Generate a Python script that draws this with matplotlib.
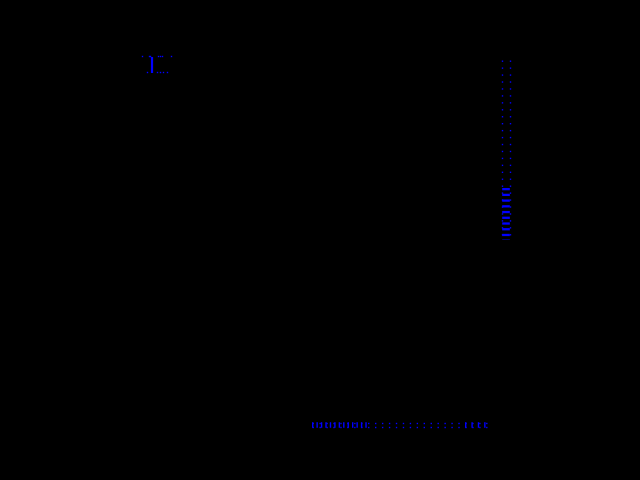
import numpy as np
import matplotlib
matplotlib.use("Agg")
import matplotlib.pyplot as plt

# values (pixel frame of a 640x480 canvas)
legend_bar_x = [152, 152]
legend_bar_y = [57, 73]
legend_top_dots_x = [142, 149, 150, 158, 160, 162, 171]
legend_bot_dots_x = [147, 157, 160, 163, 167]
legend_top_y = 56
legend_bot_y = 72

col_x = [502, 510]
col_span = [60, 240]
col_dense_x = 506
col_dense_span = [188, 240]

row_y = [423, 427]
row_span = [312, 487]
row_dense_y = 425
row_dense_left = [312, 368]
row_dense_right = [465, 487]

fig = plt.figure(figsize=(6.4, 4.8), dpi=100, facecolor="black")
ax = fig.add_axes([0, 0, 1, 1])
ax.set_facecolor("black")
ax.set_xlim(0, 640)
ax.set_ylim(480, 0)
ax.axis("off")

blue = "#0000ff"

# small legend-like mark top left
ax.plot(legend_bar_x, legend_bar_y, color=blue, lw=1.6, solid_capstyle="butt")
ax.plot(legend_top_dots_x, [legend_top_y] * len(legend_top_dots_x), "s",
        color=blue, ms=1.0, mew=0)
ax.plot(legend_bot_dots_x, [legend_bot_y] * len(legend_bot_dots_x), "s",
        color=blue, ms=1.0, mew=0)

# vertical dotted series on the right
for x in col_x:
    ax.plot([x, x], col_span, color=blue, lw=1.0, ls=(0, (1, 4)))
ax.plot([col_dense_x, col_dense_x], col_dense_span, color=blue, lw=5.5,
        ls=(0, (0.3, 0.45)), dash_capstyle="butt")

# horizontal dotted series at the bottom
for y in row_y:
    ax.plot(row_span, [y, y], color=blue, lw=1.0, ls=(0, (1, 4)))
ax.plot(row_dense_left, [row_dense_y, row_dense_y], color=blue, lw=4.0,
        ls=(0, (0.25, 0.55)), dash_capstyle="butt")
ax.plot(row_dense_right, [row_dense_y, row_dense_y], color=blue, lw=4.0,
        ls=(0, (0.25, 0.9)), dash_capstyle="butt")

fig.savefig("out.png", dpi=100, facecolor="black")
